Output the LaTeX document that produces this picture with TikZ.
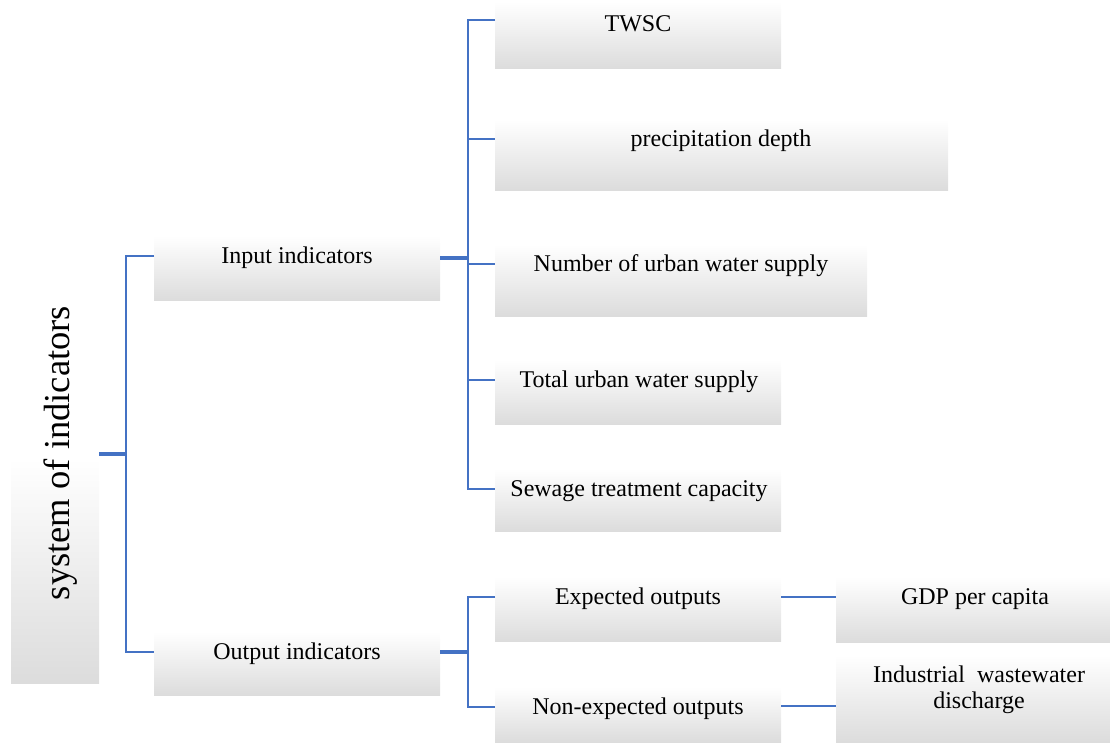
\documentclass[tikz,border=0pt]{standalone}
\usepackage{fontspec}
\setmainfont{Liberation Serif}
\usetikzlibrary{fit}
\definecolor{lineblue}{RGB}{68,114,196}
\definecolor{boxgray}{RGB}{220,220,220}
\begin{document}
\begin{tikzpicture}[x=1pt,y=-1pt,
  box/.style={inner sep=0pt, outer sep=0pt, top color=white, bottom color=boxgray, draw=none},
  lbl/.style={font=\fontsize{24}{27}\selectfont, inner sep=0pt, align=center, yshift=-2pt},
  conn/.style={draw=lineblue, line width=2.7pt},
  stub/.style={draw=lineblue, line width=3.6pt}]
\useasboundingbox (0,0) rectangle (1110,742);
% boxes
\node[box, fit={(11,458)(99,683)}] (rootbox) {};
\node[box, fit={(154,236)(440,300)}] (inbox) {};
\node[box, fit={(154,632)(440,695)}] (outbox) {};
\node[box, fit={(495,2)(781,68)}] (b1) {};
\node[box, fit={(495,119)(948,190)}] (b2) {};
\node[box, fit={(495,244)(867,316)}] (b3) {};
\node[box, fit={(495,360)(781,424)}] (b4) {};
\node[box, fit={(495,469)(781,531)}] (b5) {};
\node[box, fit={(495,577)(781,641)}] (eb) {};
\node[box, fit={(495,687)(781,742)}] (nb) {};
\node[box, fit={(836,577)(1110,642)}] (gb) {};
\node[box, fit={(836,655)(1110,742)}] (ib) {};
% texts
\node[font=\fontsize{36.5}{40}\selectfont, rotate=90, inner sep=0pt] (roottext) at (61,453) {system of indicators};
\node[lbl] (intext) at (297,256) {Input indicators};
\node[lbl] (outtext) at (297,652) {Output indicators};
\node[lbl] (t1) at (638,22) {TWSC};
\node[lbl] (t2) at (721,139) {precipitation depth};
\node[lbl] (t3) at (681,264) {Number of urban water supply};
\node[lbl] (t4) at (639,380) {Total urban water supply};
\node[lbl] (t5) at (639,489) {Sewage treatment capacity};
\node[lbl] (et) at (638,597) {Expected outputs};
\node[lbl] (nt) at (638,707) {Non-expected outputs};
\node[lbl] (gt) at (975,597) {GDP per capita};
\node[lbl, font=\fontsize{24}{26}\selectfont] (it) at (979,688) {Industrial\ \ wastewater\\discharge};
% connectors
\coordinate (rj) at (126,454);
\coordinate (ij) at (468,258);
\coordinate (oj) at (468,652);
\draw[stub] (rootbox.east |- rj) -- (rj);
\draw[conn] (inbox.west |- 0,256) -| (rj) |- (outbox.west |- 0,652);
\draw[stub] (inbox.east |- ij) -- (ij);
\draw[conn] (b1.west |- 0,20) -| (ij |- 0,489) -- (b5.west |- 0,489);
\draw[conn] (ij |- 0,139) -- (b2.west |- 0,139);
\draw[conn] (ij |- 0,264) -- (b3.west |- 0,264);
\draw[conn] (ij |- 0,380) -- (b4.west |- 0,380);
\draw[stub] (outbox.east |- oj) -- (oj);
\draw[conn] (eb.west |- 0,597) -| (oj |- 0,707) -- (nb.west |- 0,707);
\draw[conn] (eb.east |- 0,597) -- (gb.west |- 0,597);
\draw[conn] (nb.east |- 0,706) -- (ib.west |- 0,706);
\end{tikzpicture}
\end{document}
